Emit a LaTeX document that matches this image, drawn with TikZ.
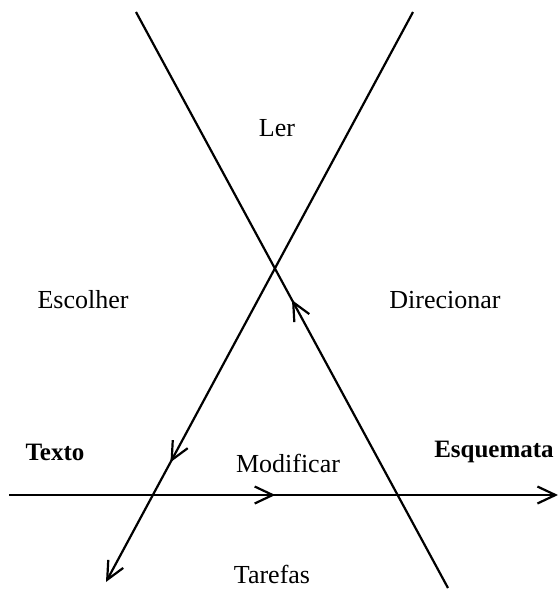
\documentclass[tikz,border=0pt]{standalone}
\usepackage{fontspec}
\setmainfont{Liberation Serif}
\usetikzlibrary{arrows.meta,decorations.markings}

\begin{document}
\begin{tikzpicture}[x=1pt, y=-1pt,
    axis/.style={line width=2.2pt},
    endtip/.style={-{Straight Barb[length=18pt, width=17pt]}},
    midtip/.style={postaction={decorate}, decoration={markings,
        mark=at position #1 with {\arrow{Straight Barb[length=18pt, width=17pt]}}}},
    lbl/.style={font=\fontsize{26}{30}\selectfont},
    key/.style={font=\fontsize{25}{30}\selectfont\bfseries},
  ]
  \useasboundingbox (0,0) rectangle (559,590);

  % end points of the three lines
  \coordinate (aTop) at (136,12);
  \coordinate (aBot) at (448,588);
  \coordinate (bTop) at (413,12);
  \coordinate (bBot) at (106,582);
  \coordinate (hLeft) at (9,495);
  \coordinate (hRight) at (558,495);

  % the lines
  \draw[axis, midtip=0.5] (aBot) -- (aTop);
  \draw[axis, endtip, midtip=0.79] (bTop) -- (bBot);
  \draw[axis, endtip, midtip=0.485] (hLeft) -- (hRight);

  % labels
  \node[lbl] (ler) at (277,128) {Ler};
  \node[lbl] (escolher) at (83,300) {Escolher};
  \node[lbl] (direcionar) at (445,300) {Direcionar};
  \node[key] (texto) at (55,452) {Texto};
  \node[lbl] (modificar) at (288,463) {Modificar};
  \node[key] (esquemata) at (494,452) {Esquemata};
  \node[lbl, inner sep=1pt] (tarefas) at (272,574) {Tarefas};
\end{tikzpicture}
\end{document}
